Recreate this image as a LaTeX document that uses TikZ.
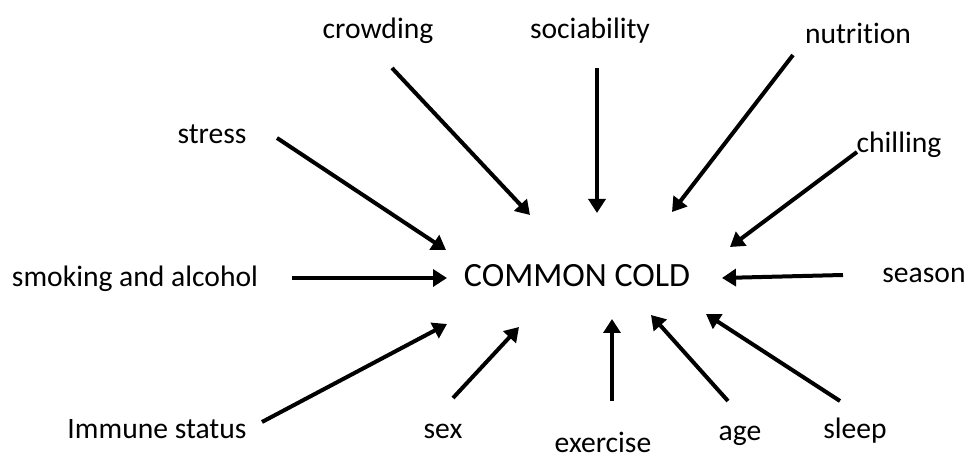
\documentclass[tikz,border=0pt]{standalone}
\usepackage{fontspec}
\setmainfont{Carlito}[Ligatures=NoCommon]
\usepackage{tikz}
\usetikzlibrary{arrows.meta,positioning,calc}

\begin{document}
\begin{tikzpicture}[
    x=0.5pt, y=-0.5pt,
    factor/.style={inner sep=0pt, font=\fontsize{14.8}{17}\selectfont, text height=0.72em, text depth=0.22em},
    arrow/.style={-{Triangle[length=7pt, width=8.5pt]}, line width=2pt}
]
\useasboundingbox (0,0) rectangle (966,459);

% Centre
\node[factor, font=\fontsize{17}{20}\selectfont] (cold) at (577,282) {COMMON COLD};

% Factors, top row
\node[factor] (crowd) at (378,34) {crowding};
\node[factor] (social) at (590,34) {sociability};
\node[factor] (nutri) at (858,39) {nutrition};

% Factors, sides
\node[factor] (stress) at (212,139) {stress};
\node[factor] (chill) at (899,148) {chilling};
\node[factor] (smoke) at (135,282) {smoking and alcohol};
\node[factor] (season) at (924,278) {season};

% Factors, bottom row
\node[factor] (immune) at (157,434) {Immune status};
\node[factor] (sex) at (443,434) {sex};
\node[factor] (exer) at (603,448) {exercise};
\node[factor] (age) at (740,436) {age};
\node[factor] (sleep) at (855,434) {sleep};

% Arrow ends
\coordinate (crowd-s) at (392,68);   \coordinate (crowd-e) at (530,215);
\coordinate (social-s) at (597,68);  \coordinate (social-e) at (597,213);
\coordinate (nutri-s) at (793,55);   \coordinate (nutri-e) at (672,212);
\coordinate (stress-s) at (277,138); \coordinate (stress-e) at (446,250);
\coordinate (chill-s) at (857,152);  \coordinate (chill-e) at (730,247);
\coordinate (smoke-s) at (292,278);  \coordinate (smoke-e) at (447,278);
\coordinate (season-s) at (843,275); \coordinate (season-e) at (722,278);
\coordinate (immune-s) at (262,422); \coordinate (immune-e) at (447,324);
\coordinate (sex-s) at (453,398);    \coordinate (sex-e) at (519,327);
\coordinate (exer-s) at (612,401);   \coordinate (exer-e) at (612,319);
\coordinate (age-s) at (728,401);    \coordinate (age-e) at (651,315);
\coordinate (sleep-s) at (840,401);  \coordinate (sleep-e) at (706,314);

% Arrows
\draw[arrow] (crowd-s) -- (crowd-e);
\draw[arrow] (social-s) -- (social-e);
\draw[arrow] (nutri-s) -- (nutri-e);
\draw[arrow] (stress-s) -- (stress-e);
\draw[arrow] (chill-s) -- (chill-e);
\draw[arrow] (smoke-s) -- (smoke-e);
\draw[arrow] (season-s) -- (season-e);
\draw[arrow] (immune-s) -- (immune-e);
\draw[arrow] (sex-s) -- (sex-e);
\draw[arrow] (exer-s) -- (exer-e);
\draw[arrow] (age-s) -- (age-e);
\draw[arrow] (sleep-s) -- (sleep-e);

\end{tikzpicture}
\end{document}
